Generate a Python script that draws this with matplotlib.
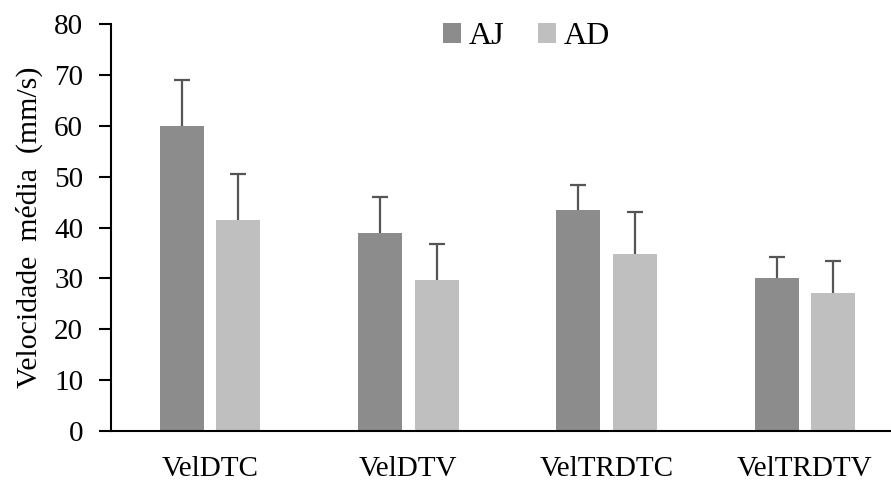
import numpy as np
import matplotlib
matplotlib.use('Agg')
import matplotlib.pyplot as plt

# data
categories = ['VelDTC', 'VelDTV', 'VelTRDTC', 'VelTRDTV']
aj_mean = [60.0, 39.0, 43.4, 30.0]
aj_err = [8.9, 7.0, 4.9, 4.2]
ad_mean = [41.5, 29.7, 34.7, 27.2]
ad_err = [9.0, 7.0, 8.3, 6.3]

plt.rcParams['font.family'] = ['Liberation Serif', 'DejaVu Serif']

fig = plt.figure(figsize=(8.91, 4.83), dpi=100)
ax = fig.add_axes([111 / 891, 52 / 483, 1 - 111 / 891, (431 - 24) / 483])

x = np.arange(len(categories))
width = 0.222
offset = 0.143

# error bars sit under the bars so only the upper half shows
err_style = dict(fmt='none', ecolor='#555555', elinewidth=1.6, capthick=1.6,
                 capsize=5.5, zorder=1)
ax.errorbar(x - offset, aj_mean, yerr=aj_err, **err_style)
ax.errorbar(x + offset, ad_mean, yerr=ad_err, **err_style)
ax.bar(x - offset, aj_mean, width, color='#8c8c8c', label='AJ', zorder=2)
ax.bar(x + offset, ad_mean, width, color='#bfbfbf', label='AD', zorder=2)

ax.set_xlim(-0.5, 3.434)
ax.set_ylim(0, 80)
ax.set_yticks(range(0, 81, 10))
ax.set_xticks(x)
ax.set_xticklabels(categories)
ax.set_ylabel('Velocidade  média  (mm/s)', fontsize=21.5, labelpad=8)

for side in ['top', 'right']:
    ax.spines[side].set_visible(False)
ax.spines['left'].set_linewidth(1.5)
ax.spines['bottom'].set_linewidth(1.5)
ax.spines['left'].set_zorder(3)
ax.spines['bottom'].set_zorder(3)
ax.tick_params(axis='y', direction='out', length=9, width=1.5, labelsize=21, pad=11)
ax.tick_params(axis='x', length=0, labelsize=21, pad=18)

ax.legend(loc='upper center', bbox_to_anchor=(0.533, 1.075), ncol=2, frameon=False,
          fontsize=23, handlelength=0.55, handleheight=0.55, handletextpad=0.25,
          columnspacing=1.05)

fig.savefig('out.png', dpi=100)
